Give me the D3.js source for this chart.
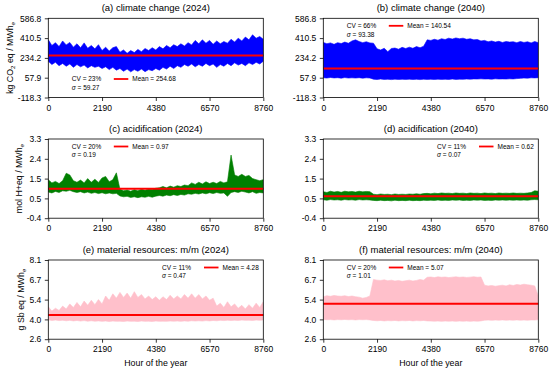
<!DOCTYPE html>
<html>
<head>
<meta charset="utf-8">
<script src="https://cdn.jsdelivr.net/npm/d3@7/dist/d3.min.js"></script>
<style>
  html, body { margin: 0; padding: 0; background: #fff; }
  svg { display: block; font-family: "Liberation Sans", Arial, sans-serif; }
</style>
</head>
<body>
<div id="chart"></div>
<script>
'use strict';

const HOUR_STEP = 146;
const hourTicks = [0, 2190, 4380, 6570, 8760];

const climateTicks = ['-118.3', '57.9', '234.2', '410.5', '586.8'];
const acidTicks = ['-0.4', '0.5', '1.5', '2.4', '3.3'];
const materialTicks = ['2.6', '4.0', '5.4', '6.7', '8.1'];

const climate2024Hi = [395,345,370,335,385,350,372,330,360,325,
  368,320,345,315,352,300,330,295,325,335,
  285,305,275,300,282,310,290,318,300,325,
  305,335,315,345,325,352,335,360,340,370,
  350,390,360,395,365,390,355,385,360,380,
  365,400,375,410,385,420,395,440,410,425,
  400];
const climate2024Lo = [205,175,195,165,185,160,180,150,175,155,
  170,145,165,150,160,140,155,130,150,125,
  140,115,135,110,130,115,135,112,130,120,
  140,125,150,135,160,140,165,150,175,160,
  180,155,175,160,185,165,180,150,175,160,
  185,165,190,170,185,165,190,175,195,180,
  205];

const climate2040Hi = [372,360,368,355,370,362,375,365,385,395,
  380,370,378,368,365,315,305,320,290,318,
  322,312,328,318,330,320,335,325,338,395,
  390,400,392,405,398,410,402,412,405,410,
  400,405,395,398,385,390,378,385,375,382,
  372,380,375,378,370,380,372,378,368,380,
  370];
const climate2040Lo = [58,55,60,56,58,54,59,55,57,55,
  58,54,57,55,45,42,46,43,44,41,
  45,42,44,43,45,42,44,41,45,43,
  44,42,45,43,44,42,46,43,45,44,
  46,45,47,46,48,46,47,45,48,46,
  47,46,48,47,50,52,55,54,57,56,
  58];

const acid2024Hi = [1.40,1.25,1.32,1.22,1.35,1.70,1.62,1.35,1.28,1.38,
  1.25,1.45,1.28,1.42,1.27,1.48,1.55,1.30,1.40,1.72,
  0.95,0.88,0.92,0.86,0.93,0.88,0.95,0.90,0.97,0.94,
  1.00,1.02,1.08,1.02,1.10,1.05,1.12,1.08,1.15,1.12,
  1.25,1.18,1.28,1.20,1.30,1.22,1.28,1.22,1.32,1.25,
  1.30,2.55,1.62,1.55,1.65,1.55,1.60,1.45,1.40,1.35,
  1.40];
const acid2024Lo = [0.82,0.78,0.85,0.80,0.88,0.86,0.90,0.84,0.80,0.84,
  0.78,0.82,0.76,0.80,0.75,0.79,0.74,0.78,0.74,0.76,
  0.64,0.60,0.62,0.57,0.60,0.56,0.60,0.58,0.62,0.58,
  0.63,0.66,0.63,0.68,0.65,0.70,0.66,0.71,0.68,0.74,
  0.72,0.76,0.73,0.78,0.74,0.79,0.75,0.80,0.76,0.78,
  0.62,0.80,0.84,0.80,0.86,0.82,0.78,0.84,0.76,0.80,
  0.78];

const acid2040Hi = [0.84,0.80,0.86,0.82,0.85,0.81,0.86,0.83,0.85,0.82,
  0.86,0.83,0.85,0.84,0.72,0.70,0.73,0.71,0.72,0.70,
  0.73,0.71,0.72,0.71,0.73,0.72,0.74,0.72,0.75,0.76,
  0.74,0.77,0.75,0.78,0.76,0.77,0.75,0.78,0.76,0.77,
  0.75,0.78,0.76,0.77,0.75,0.78,0.76,0.77,0.75,0.78,
  0.76,0.77,0.76,0.78,0.76,0.77,0.76,0.78,0.80,0.88,
  0.86];
const acid2040Lo = [0.46,0.44,0.47,0.45,0.46,0.44,0.47,0.45,0.46,0.44,
  0.47,0.45,0.46,0.45,0.43,0.42,0.44,0.42,0.43,0.41,
  0.44,0.42,0.43,0.42,0.44,0.42,0.43,0.42,0.44,0.43,
  0.44,0.43,0.45,0.43,0.44,0.43,0.45,0.44,0.45,0.43,
  0.44,0.43,0.45,0.44,0.45,0.43,0.44,0.43,0.45,0.44,
  0.45,0.44,0.45,0.44,0.45,0.44,0.45,0.44,0.46,0.47,
  0.46];

const material2024Hi = [4.85,4.55,4.75,4.60,4.90,4.70,5.05,4.80,5.15,4.85,
  5.25,4.95,5.30,5.00,5.35,5.05,5.60,5.30,5.75,5.45,
  5.85,5.50,5.80,5.45,5.90,5.50,5.70,5.40,5.60,5.35,
  5.55,5.30,5.55,5.35,5.65,5.40,5.60,5.40,5.70,5.45,
  5.75,5.45,5.70,5.40,5.60,5.30,5.45,4.90,5.10,4.80,
  5.20,4.85,5.05,4.75,4.95,4.70,5.00,4.75,5.10,4.80,
  5.20];
const material2024Lo = [3.95,3.90,3.93,3.89,3.92,3.88,3.91,3.87,3.90,3.86,
  3.89,3.85,3.88,3.85,3.87,3.84,3.86,3.83,3.86,3.84,
  3.85,3.83,3.86,3.84,3.85,3.83,3.86,3.84,3.85,3.83,
  3.86,3.84,3.85,3.84,3.86,3.85,3.86,3.84,3.87,3.85,
  3.88,3.86,3.88,3.86,3.89,3.87,3.90,3.88,3.91,3.89,
  3.92,3.90,3.92,3.90,3.93,3.91,3.92,3.90,3.93,3.91,
  3.94];

const material2040Hi = [5.55,5.62,5.58,5.64,5.60,5.58,5.62,5.56,5.60,5.55,
  5.52,5.45,5.50,5.60,6.75,6.70,6.68,6.72,6.66,6.70,
  6.64,6.68,6.62,6.66,6.70,6.64,6.68,6.75,6.70,6.90,
  6.92,6.88,6.93,6.90,6.92,6.88,6.91,6.93,6.90,6.92,
  6.89,6.91,6.94,6.90,6.92,6.35,6.30,6.33,6.28,6.32,
  6.35,6.30,6.38,6.33,6.40,6.36,6.42,6.38,6.35,6.30,
  5.60];
const material2040Lo = [3.97,3.95,3.96,3.94,3.96,3.95,3.97,3.95,3.96,3.94,
  3.96,3.95,3.96,3.94,3.90,3.88,3.90,3.87,3.89,3.88,
  3.90,3.87,3.89,3.88,3.90,3.87,3.89,3.88,3.90,3.87,
  3.86,3.85,3.86,3.84,3.86,3.85,3.86,3.84,3.86,3.85,
  3.86,3.84,3.86,3.85,3.87,3.92,3.93,3.91,3.93,3.92,
  3.94,3.92,3.93,3.92,3.94,3.92,3.93,3.92,3.94,3.93,
  3.96];

const panelTitles = ['(a) climate change (2024)', '(b) climate change (2040)',
  '(c) acidification (2024)', '(d) acidification (2040)',
  '(e) material resources: m/m (2024)', '(f) material resources: m/m (2040)'];
const meanValues = [254.68, 140.54, 0.97, 0.62, 4.28, 5.07];
const meanLabels = ['254.68', '140.54', '0.97', '0.62', '4.28', '5.07'];
const cvLabels = ['23%', '66%', '20%', '11%', '11%', '20%'];
const sigmaLabels = ['59.27', '93.38', '0.19', '0.07', '0.47', '1.01'];

/* ── Layout ── */
const W = 550, H = 371;
const colX = [48.3, 323.3];
const rowY = [18.3, 139, 260];
const PW = 215, PH = 79.2;

const panels = [
  { hi: climate2024Hi, lo: climate2024Lo, ticks: climateTicks, color: '#0000ff', legend: 'bl', ylab: ['kg CO', '2', ' eq / MWh', 'e'] },
  { hi: climate2040Hi, lo: climate2040Lo, ticks: climateTicks, color: '#0000ff', legend: 'tl' },
  { hi: acid2024Hi, lo: acid2024Lo, ticks: acidTicks, color: '#008000', legend: 'tl', ylab: ['mol H+eq / MWh', 'e'] },
  { hi: acid2040Hi, lo: acid2040Lo, ticks: acidTicks, color: '#008000', legend: 'tr' },
  { hi: material2024Hi, lo: material2024Lo, ticks: materialTicks, color: '#ffc0cb', legend: 'tr', ylab: ['g Sb eq / MWh', 'e'] },
  { hi: material2040Hi, lo: material2040Lo, ticks: materialTicks, color: '#ffc0cb', legend: 'tl' },
];

const svg = d3.select('#chart').append('svg')
  .attr('width', W).attr('height', H)
  .attr('viewBox', `0 0 ${W} ${H}`);

panels.forEach((p, k) => {
  const col = k % 2, row = Math.floor(k / 2);
  const x0 = colX[col], y0 = rowY[row];
  const g = svg.append('g').attr('transform', `translate(${x0},${y0})`);

  const tickNums = p.ticks.map(Number);
  const lo = tickNums[0], hi = tickNums[tickNums.length - 1];
  const x = d3.scaleLinear().domain([0, 8760]).range([0, PW]);
  const y = d3.scaleLinear().domain([lo, hi]).range([PH, 0]);
  const yTickVals = p.ticks.map((_, i) => lo + i * (hi - lo) / (p.ticks.length - 1));

  const clipId = 'clip' + k;
  g.append('clipPath').attr('id', clipId)
    .append('rect').attr('width', PW).attr('height', PH);

  const area = d3.area()
    .x((d, i) => x(i * HOUR_STEP))
    .y0((d, i) => y(p.lo[i]))
    .y1(d => y(d));

  g.append('path')
    .datum(p.hi)
    .attr('clip-path', `url(#${clipId})`)
    .attr('fill', p.color)
    .attr('stroke', p.color)
    .attr('stroke-width', 0.6)
    .attr('d', area);

  // mean line
  g.append('line')
    .attr('x1', x(0)).attr('x2', x(8760))
    .attr('y1', y(meanValues[k])).attr('y2', y(meanValues[k]))
    .attr('stroke', '#ff0000').attr('stroke-width', 2);

  // axes
  const xAxis = g.append('g').attr('transform', `translate(0,${PH})`)
    .call(d3.axisBottom(x).tickValues(hourTicks).tickFormat(d3.format('d'))
      .tickSize(3.5).tickPadding(3.5).tickSizeOuter(0));
  const yAxis = g.append('g')
    .call(d3.axisLeft(y).tickValues(yTickVals).tickFormat((d, i) => p.ticks[i])
      .tickSize(3.5).tickPadding(3.5).tickSizeOuter(0));
  [xAxis, yAxis].forEach(a => {
    a.select('.domain').remove();
    a.selectAll('line').attr('stroke', '#000').attr('stroke-width', 0.8);
    a.selectAll('text').attr('fill', '#000').style('font-size', '8.5px')
      .style('font-family', '"Liberation Sans", Arial, sans-serif');
  });

  g.append('rect').attr('width', PW).attr('height', PH)
    .attr('fill', 'none').attr('stroke', '#000').attr('stroke-width', 0.8);

  // title
  g.append('text')
    .attr('x', PW / 2).attr('y', -7.2)
    .attr('text-anchor', 'middle')
    .style('font-size', '9.5px')
    .text(panelTitles[k]);

  // y label
  if (p.ylab) {
    const bb = yAxis.node().getBBox();
    const t = g.append('text')
      .attr('transform', `translate(${bb.x - 5},${PH / 2}) rotate(-90)`)
      .attr('text-anchor', 'middle')
      .style('font-size', '8.8px');
    p.ylab.forEach((s, i) => {
      const ts = t.append('tspan').text(s);
      if (i % 2 === 1) ts.attr('baseline-shift', '-25%').style('font-size', '6.2px');
    });
  }

  // x label on bottom row
  if (row === 2) {
    g.append('text')
      .attr('x', PW / 2).attr('y', PH + 26.5)
      .attr('text-anchor', 'middle')
      .style('font-size', '8.8px')
      .text('Hour of the year');
  }

  // legend / stats
  const lx = p.legend === 'tr' ? 113.7 : 23.5;
  const ly = p.legend === 'bl' ? 60.7 : 7.5;
  const lg = g.append('g').style('font-size', '6.5px');
  lg.append('text').attr('x', lx).attr('y', ly).attr('dy', '0.35em')
    .text('CV = ' + cvLabels[k]);
  const st = lg.append('text').attr('x', lx).attr('y', ly + 8.5).attr('dy', '0.35em');
  st.append('tspan').style('font-style', 'italic').text('σ');
  st.append('tspan').text(' = ' + sigmaLabels[k]);
  const mx = lx + 42;
  lg.append('line').attr('x1', mx).attr('x2', mx + 14.5)
    .attr('y1', ly).attr('y2', ly)
    .attr('stroke', '#ff0000').attr('stroke-width', 1.8);
  lg.append('text').attr('x', mx + 18.5).attr('y', ly).attr('dy', '0.35em')
    .text('Mean = ' + meanLabels[k]);
});
</script>
</body>
</html>
